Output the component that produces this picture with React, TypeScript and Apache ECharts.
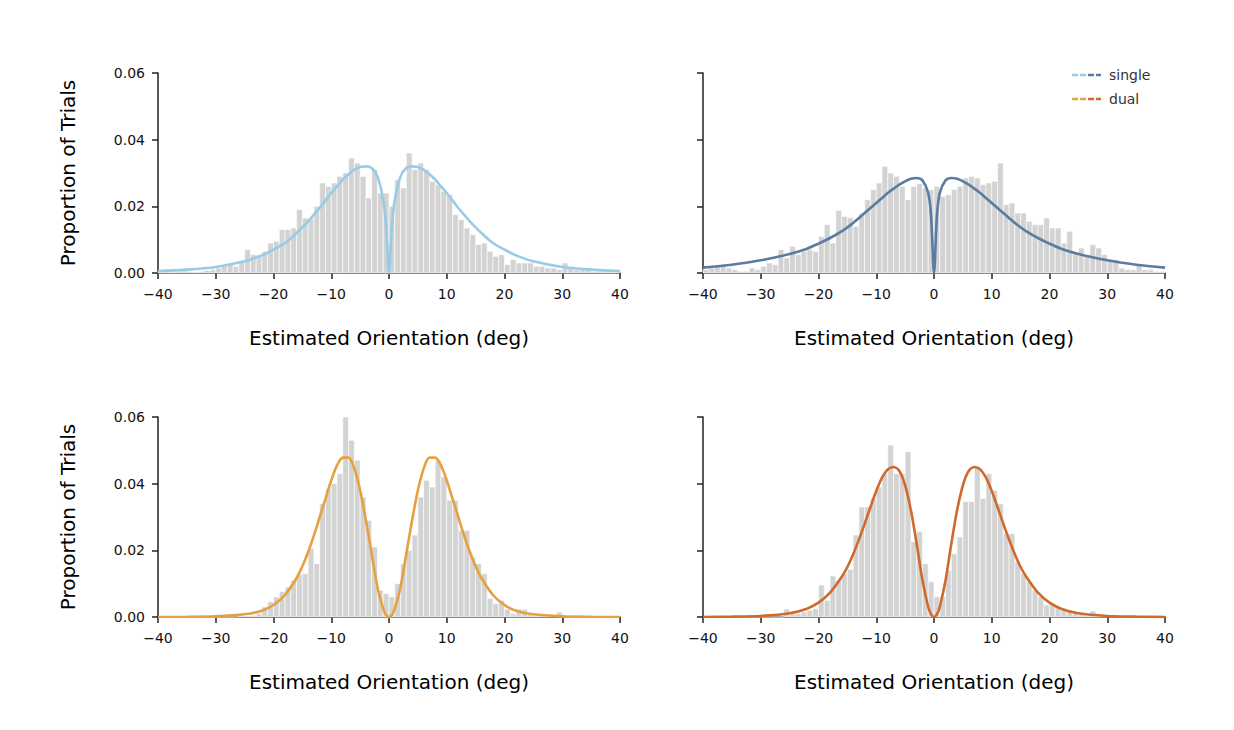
import { useEffect, useRef } from 'react';
import * as echarts from 'echarts';

// histogram bins: left edges -40..39, width 1 deg
const binEdges = Array.from({ length: 80 }, (_, i) => i - 40);

const histSingleA = [
  0.0005, 0.0005, 0.0003, 0.0005, 0.0007, 0.0005, 0.0003, 0.0005, 0.0008, 0.001,
  0.0015, 0.002, 0.0025, 0.002, 0.0035, 0.007, 0.0055, 0.0055, 0.0065, 0.009,
  0.0095, 0.013, 0.013, 0.0135, 0.019, 0.0165, 0.0165, 0.02, 0.027, 0.026,
  0.027, 0.029, 0.03, 0.0345, 0.033, 0.029, 0.0225, 0.031, 0.024, 0.024,
  0.02, 0.028, 0.0255, 0.036, 0.031, 0.033, 0.031, 0.0275, 0.0265, 0.0245,
  0.0235, 0.0175, 0.016, 0.0135, 0.0115, 0.0085, 0.009, 0.0065, 0.005, 0.0055,
  0.0025, 0.004, 0.003, 0.003, 0.003, 0.002, 0.002, 0.0015, 0.0015, 0.001,
  0.003, 0.002, 0.001, 0.001, 0.0008, 0.0005, 0.0005, 0.0003, 0.0003, 0.0002,
];

const histSingleB = [
  0.001, 0.0015, 0.002, 0.0025, 0.0015, 0.001, 0.0005, 0.0005, 0.0015, 0.001,
  0.002, 0.003, 0.0025, 0.007, 0.0045, 0.008, 0.0055, 0.0065, 0.007, 0.0065,
  0.011, 0.0145, 0.009, 0.0188, 0.017, 0.0166, 0.014, 0.018, 0.022, 0.025,
  0.027, 0.032, 0.03, 0.029, 0.026, 0.022, 0.026, 0.0268, 0.0255, 0.025,
  0.026, 0.023, 0.0235, 0.025, 0.026, 0.0285, 0.029, 0.0285, 0.0265, 0.027,
  0.0275, 0.033, 0.0205, 0.021, 0.018, 0.018, 0.0155, 0.0145, 0.0145, 0.0165,
  0.0135, 0.0135, 0.009, 0.0125, 0.006, 0.0075, 0.005, 0.0085, 0.0075, 0.0055,
  0.004, 0.004, 0.0015, 0.001, 0.001, 0.0025, 0.001, 0.001, 0.0005, 0.0005,
];

const histDualA = [
  0, 0, 0, 0, 0, 0, 0, 0, 0, 0,
  0, 0, 0, 0, 0.0002, 0.0003, 0.0005, 0.001, 0.003, 0.0046,
  0.006, 0.0076, 0.009, 0.011, 0.0128, 0.013, 0.0206, 0.016, 0.034, 0.0384,
  0.04, 0.043, 0.06, 0.053, 0.047, 0.036, 0.029, 0.021, 0.008, 0.007,
  0.006, 0.01, 0.016, 0.02, 0.0246, 0.036, 0.041, 0.039, 0.047, 0.042,
  0.035, 0.035, 0.026, 0.026, 0.018, 0.016, 0.013, 0.0056, 0.004, 0.005,
  0.0023, 0.001, 0.0023, 0.0023, 0.001, 0.0005, 0.0005, 0.0005, 0.0005, 0.0015,
  0.0003, 0.0003, 0.0002, 0, 0, 0, 0, 0, 0, 0,
];

const histDualB = [
  0, 0, 0, 0, 0, 0, 0, 0, 0, 0,
  0, 0, 0, 0, 0.0024, 0.001, 0.001, 0.0015, 0.002, 0.0025,
  0.0096, 0.005, 0.0123, 0.011, 0.013, 0.0143, 0.0246, 0.033, 0.033, 0.0356,
  0.039, 0.043, 0.0516, 0.043, 0.043, 0.0496, 0.0226, 0.0256, 0.016, 0.0106,
  0.0061, 0.0061, 0.014, 0.019, 0.024, 0.0346, 0.0346, 0.045, 0.0356, 0.043,
  0.038, 0.034, 0.025, 0.025, 0.0166, 0.013, 0.0106, 0.0081, 0.0061, 0.0036,
  0.0041, 0.0031, 0.0021, 0.0016, 0.0011, 0.0008, 0.0005, 0.0018, 0.0005, 0.0003,
  0.0002, 0.0002, 0, 0, 0, 0, 0, 0, 0, 0,
];

// model curves, read at these x positions (symmetric halves)
const curveX = [0, 0.5, 1, 2, 3, 4, 5, 6, 7, 8, 9, 10, 11, 12, 13, 14, 15, 16, 18, 20, 22, 25, 30, 35, 40];
const fitSingleA = [0, 0.014, 0.022, 0.029, 0.0315, 0.032, 0.0318, 0.031, 0.0296, 0.028, 0.026, 0.024, 0.0218, 0.0195, 0.0175, 0.0155, 0.0137, 0.012, 0.009, 0.007, 0.0053, 0.0035, 0.0018, 0.001, 0.0006];
const fitSingleB = [0, 0.017, 0.024, 0.0278, 0.0285, 0.0283, 0.0275, 0.0265, 0.0253, 0.024, 0.0225, 0.021, 0.0195, 0.018, 0.0165, 0.015, 0.0137, 0.0125, 0.0105, 0.0088, 0.0073, 0.0057, 0.0038, 0.0025, 0.0016];
const fitDualA = [0, 0.0006, 0.0025, 0.009, 0.019, 0.029, 0.038, 0.0445, 0.0478, 0.0478, 0.0455, 0.041, 0.0355, 0.03, 0.0245, 0.0195, 0.0152, 0.0117, 0.0066, 0.0036, 0.0019, 0.0008, 0.0002, 0.00005, 0];
const fitDualB = [0, 0.0008, 0.003, 0.011, 0.022, 0.032, 0.0395, 0.0438, 0.045, 0.0443, 0.0418, 0.0378, 0.033, 0.028, 0.0232, 0.0188, 0.015, 0.012, 0.0073, 0.0043, 0.0025, 0.0011, 0.0003, 0.0001, 0];

const xTicks = [-40, -30, -20, -10, 0, 10, 20, 30, 40];
const yTicks = [0, 0.02, 0.04, 0.06];

const COLORS = { singleA: '#97cbe6', singleB: '#5b7ba0', dualA: '#e6a03f', dualB: '#d06a2a' };
const FONT = 'DejaVu Sans';

function mirror(ys: number[]) {
  const pts: [number, number][] = [];
  for (let i = curveX.length - 1; i > 0; i--) pts.push([-curveX[i], ys[i]]);
  for (let i = 0; i < curveX.length; i++) pts.push([curveX[i], ys[i]]);
  return pts;
}

const panels = [
  { hist: histSingleA, fit: fitSingleA, color: COLORS.singleA, left: 158, top: 73, yLabel: true },
  { hist: histSingleB, fit: fitSingleB, color: COLORS.singleB, left: 703, top: 73, yLabel: false },
  { hist: histDualA, fit: fitDualA, color: COLORS.dualA, left: 158, top: 417, yLabel: true },
  { hist: histDualB, fit: fitDualB, color: COLORS.dualB, left: 703, top: 417, yLabel: false },
];

export default function App() {
  const ref = useRef<HTMLDivElement>(null);

  useEffect(() => {
    if (!ref.current) return;
    const chart = echarts.init(ref.current, undefined, { renderer: 'svg' });

    const axisLine = { show: true, onZero: false, lineStyle: { color: '#222', width: 1.5 } };
    const axisTick = { show: true, inside: false, length: 6, lineStyle: { color: '#222', width: 1.5 } };

    chart.setOption({
      animation: false,
      textStyle: { fontFamily: FONT },
      grid: panels.map((p) => ({ left: p.left, top: p.top, width: 462, height: 200 })),
      xAxis: panels.map((_, i) => ({
        type: 'value',
        gridIndex: i,
        min: -40,
        max: 40,
        interval: 10,
        axisLine,
        axisTick,
        splitLine: { show: false },
        axisLabel: {
          color: '#111',
          fontSize: 14,
          margin: 14,
          formatter: (v: number) => (xTicks.includes(v) ? String(v).replace('-', '\u2212') : ''),
        },
        name: 'Estimated Orientation (deg)',
        nameLocation: 'middle',
        nameGap: 55,
        nameTextStyle: { color: '#000', fontSize: 20 },
      })),
      yAxis: panels.map((p, i) => ({
        type: 'value',
        gridIndex: i,
        min: 0,
        max: 0.06,
        interval: 0.02,
        axisLine,
        axisTick,
        splitLine: { show: false },
        axisLabel: {
          show: p.yLabel,
          color: '#111',
          fontSize: 14,
          margin: 13,
          formatter: (v: number) => (yTicks.some((t) => Math.abs(t - v) < 1e-9) ? v.toFixed(2) : ''),
        },
        name: p.yLabel ? 'Proportion of Trials' : '',
        nameLocation: 'middle',
        nameGap: 80,
        nameTextStyle: { color: '#000', fontSize: 20 },
      })),
      series: panels.flatMap((p, i) => [
        {
          type: 'custom',
          xAxisIndex: i,
          yAxisIndex: i,
          data: binEdges.map((e, j) => [e, p.hist[j]]),
          renderItem: (_params: any, api: any) => {
            const x0 = api.value(0);
            const v = api.value(1);
            const a = api.coord([x0, v]);
            const b = api.coord([x0 + 1, 0]);
            return {
              type: 'rect',
              shape: { x: a[0], y: a[1], width: b[0] - a[0], height: b[1] - a[1] },
              style: { fill: '#d3d3d3', stroke: '#ffffff', lineWidth: 0.6 },
            };
          },
          z: 1,
        },
        {
          type: 'line',
          xAxisIndex: i,
          yAxisIndex: i,
          data: mirror(p.fit),
          smooth: 0.3,
          showSymbol: false,
          lineStyle: { color: p.color, width: 2.6 },
          z: 3,
        },
      ]),
      graphic: [
        { type: 'line', shape: { x1: 1072, y1: 75, x2: 1086, y2: 75 }, style: { stroke: COLORS.singleA, lineWidth: 2.5, lineDash: [6, 2] } },
        { type: 'line', shape: { x1: 1088, y1: 75, x2: 1101, y2: 75 }, style: { stroke: COLORS.singleB, lineWidth: 2.5, lineDash: [6, 2] } },
        { type: 'line', shape: { x1: 1072, y1: 99, x2: 1086, y2: 99 }, style: { stroke: COLORS.dualA, lineWidth: 2.5, lineDash: [6, 2] } },
        { type: 'line', shape: { x1: 1088, y1: 99, x2: 1101, y2: 99 }, style: { stroke: COLORS.dualB, lineWidth: 2.5, lineDash: [6, 2] } },
        { type: 'text', x: 1109, y: 75, style: { text: 'single', fill: '#333', font: `14px ${FONT}`, verticalAlign: 'middle' } },
        { type: 'text', x: 1109, y: 99, style: { text: 'dual', fill: '#333', font: `14px ${FONT}`, verticalAlign: 'middle' } },
      ],
    });

    return () => chart.dispose();
  }, []);

  return <div ref={ref} style={{ width: 1234, height: 730, margin: -8 }} />;
}
